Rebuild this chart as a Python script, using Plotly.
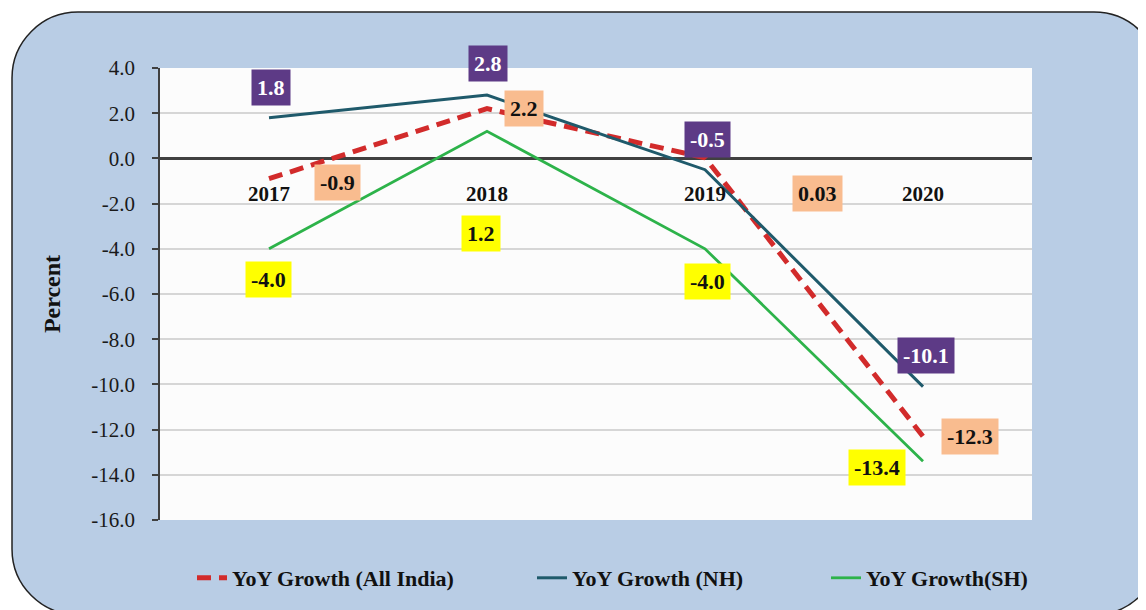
import plotly.graph_objects as go

# ---------------- data ----------------
years = ["2017", "2018", "2019", "2020"]
all_india = [-0.9, 2.2, 0.03, -12.3]
nh = [1.8, 2.8, -0.5, -10.1]
sh = [-4.0, 1.2, -4.0, -13.4]
all_india_text = ["-0.9", "2.2", "0.03", "-12.3"]
nh_text = ["1.8", "2.8", "-0.5", "-10.1"]
sh_text = ["-4.0", "1.2", "-4.0", "-13.4"]
y_tick_vals = [4, 2, 0, -2, -4, -6, -8, -10, -12, -14, -16]
y_tick_text = ["4.0", "2.0", "0.0", "-2.0", "-4.0", "-6.0", "-8.0", "-10.0", "-12.0", "-14.0", "-16.0"]

# ---------------- layout geometry (pixels) ----------------
OFF = 8                      # page body margin
W, H = 1146 - OFF, 610 - OFF
ML, MR, MT, MB = 152, 114, 60, 89
PW, PH = W - ML - MR, H - MT - MB

SERIF = "Liberation Serif"
C_AI = "#D22B2B"
C_NH = "#1F5A6B"
C_SH = "#2DB34A"
BG_AI = "#F9BC8F"
BG_NH = "#5D3A86"
BG_SH = "#FFFF00"

fig = go.Figure()
fig.add_trace(go.Scatter(x=years, y=all_india, mode="lines", name="YoY Growth (All India)",
                         line=dict(color=C_AI, width=5, dash="14px,8px"), legend="legend"))
fig.add_trace(go.Scatter(x=years, y=nh, mode="lines", name="YoY Growth (NH)",
                         line=dict(color=C_NH, width=3), legend="legend2"))
fig.add_trace(go.Scatter(x=years, y=sh, mode="lines", name="YoY Growth(SH)",
                         line=dict(color=C_SH, width=2.8), legend="legend3"))

# data labels (offsets in pixels relative to the point)
nh_off = [(2, 30), (1, 32), (2, 30), (3, 31)]
ai_off = [(68, -4), (37, 0), (112, -36), (47, 0)]
sh_off = [(-1, -31), (-6, -102), (2, -33), (-46, -6)]

annotations = []
def add_labels(vals, texts, offs, bg, fc):
    for i, (v, t, (dx, dy)) in enumerate(zip(vals, texts, offs)):
        annotations.append(dict(x=i, y=v, xref="x", yref="y", text="<b>%s</b>" % t,
                                showarrow=False, xshift=dx, yshift=dy, bgcolor=bg,
                                borderpad=5, font=dict(family=SERIF, size=22, color=fc)))

add_labels(nh, nh_text, nh_off, BG_NH, "white")
add_labels(all_india, all_india_text, ai_off, BG_AI, "#111111")
add_labels(sh, sh_text, sh_off, BG_SH, "#111111")

# rounded background panel (page pixel coordinates -> paper)
def P(xp, yp):
    xf, yf = xp - OFF, yp - OFF
    return "%.5f,%.5f" % ((xf - ML) / PW, (H - MB - yf) / PH)

x0, y0, x1, y1, r = 12, 12, 1160, 616, 66
k = 0.5523 * r
path = (
    "M " + P(x0 + r, y0) +
    " L " + P(x1 - r, y0) +
    " C " + P(x1 - r + k, y0) + " " + P(x1, y0 + r - k) + " " + P(x1, y0 + r) +
    " L " + P(x1, y1 - r) +
    " C " + P(x1, y1 - r + k) + " " + P(x1 - r + k, y1) + " " + P(x1 - r, y1) +
    " L " + P(x0 + r, y1) +
    " C " + P(x0 + r - k, y1) + " " + P(x0, y1 - r + k) + " " + P(x0, y1 - r) +
    " L " + P(x0, y0 + r) +
    " C " + P(x0, y0 + r - k) + " " + P(x0 + r - k, y0) + " " + P(x0 + r, y0) + " Z"
)
shapes = [
    dict(type="path", path=path, xref="paper", yref="paper",
         fillcolor="#B9CDE5", line=dict(color="#222222", width=1.5), layer="below"),
    dict(type="rect", xref="paper", yref="paper", x0=0, x1=1, y0=0, y1=1,
         fillcolor="#FCFCFC", line=dict(width=0), layer="below"),
]

def leg_x(text_start_page):
    return (text_start_page - OFF - 40 - ML) / PW

LEG_Y = (H - MB - (578 - OFF)) / PH
leg_font = dict(family=SERIF, size=22, color="#111111", weight="bold")
def legend_cfg(xs):
    return dict(orientation="h", x=leg_x(xs), xanchor="left", y=LEG_Y, yanchor="middle",
                bgcolor="rgba(0,0,0,0)", font=leg_font)

fig.update_layout(
    width=W, height=H,
    margin=dict(l=ML, r=MR, t=MT, b=MB, pad=0),
    paper_bgcolor="white",
    plot_bgcolor="#FCFCFC",
    shapes=shapes,
    annotations=annotations,
    showlegend=True,
    legend=legend_cfg(232),
    legend2=legend_cfg(572),
    legend3=legend_cfg(866),
    xaxis=dict(type="category", range=[-0.5, 3.5], autorange=False,
               anchor="free", position=0.8, showgrid=False,
               showline=False, zeroline=False, ticks="", ticklabelstandoff=21,
               tickfont=dict(family=SERIF, size=21, color="#111111", weight="bold")),
    yaxis=dict(range=[-16, 4], autorange=False, tickvals=y_tick_vals, ticktext=y_tick_text,
               showgrid=True, gridcolor="#D6D6D6", gridwidth=1.5,
               zeroline=True, zerolinecolor="#404040", zerolinewidth=2.5,
               showline=True, linecolor="#404040", linewidth=1.5,
               ticks="outside", ticklen=6, tickcolor="#404040", tickwidth=1.5,
               ticklabelstandoff=13,
               tickfont=dict(family=SERIF, size=21, color="#1a1a1a"),
               title=dict(text="Percent", standoff=24,
                          font=dict(family=SERIF, size=24, color="#111111", weight="bold"))),
)

fig.write_html("out.html")
